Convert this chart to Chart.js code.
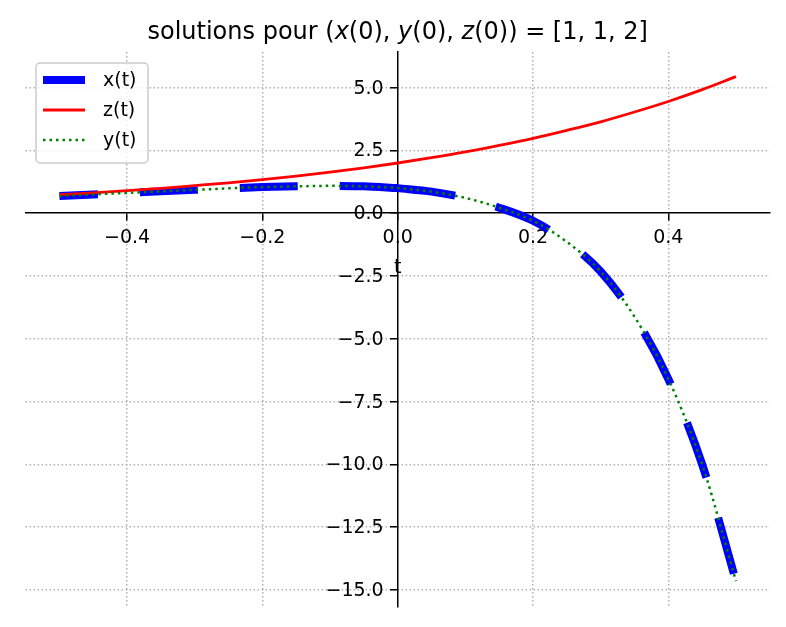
<!DOCTYPE html>
<html>
<head>
<meta charset="utf-8">
<script src="https://cdn.jsdelivr.net/npm/chart.js@4.4.0/dist/chart.umd.min.js"></script>
<style>
  html, body { margin: 0; padding: 0; background: #fff; }
  #wrap { position: relative; width: 786px; height: 627px; }
</style>
</head>
<body>
<div id="wrap"><canvas id="chart" width="786" height="627"></canvas></div>
<script>
// values
const tValues = [-0.5, -0.45, -0.4, -0.35, -0.3, -0.25, -0.2, -0.15, -0.1, -0.05, 0,
  0.05, 0.1, 0.15, 0.2, 0.25, 0.3, 0.35, 0.4, 0.45, 0.5];
const xValues = [0.69, 0.75, 0.81, 0.87, 0.93, 0.99, 1.04, 1.07, 1.09, 1.07, 1.0,
  0.86, 0.61, 0.22, -0.30, -1.14, -2.32, -4.12, -6.6, -10.0, -14.65];
const yValues = [0.69, 0.75, 0.81, 0.87, 0.93, 0.99, 1.04, 1.07, 1.09, 1.07, 1.0,
  0.86, 0.61, 0.22, -0.30, -1.14, -2.32, -4.12, -6.6, -10.0, -14.65];
const zValues = [0.74, 0.81, 0.90, 0.99, 1.10, 1.21, 1.34, 1.48, 1.64, 1.81, 2.0,
  2.21, 2.44, 2.70, 2.98, 3.30, 3.64, 4.03, 4.45, 4.92, 5.44];

const xTicks = [-0.4, -0.2, 0.0, 0.2, 0.4];
const yTicks = [-15, -12.5, -10, -7.5, -5, -2.5, 0, 2.5, 5];
const legendLabels = ["x(t)", "z(t)", "y(t)"];
const axisLabel = "t";
// [text, italic]
const titleParts = [
  ["solutions pour (", false], ["x", true], ["(0), ", false], ["y", true],
  ["(0), ", false], ["z", true], ["(0)) = [1, 1, 2]", false]
];

const FONT = "'DejaVu Sans', sans-serif";
const i0 = tValues.indexOf(0);
const pts = (vals, idx) => idx.map((i) => ({ x: tValues[i], y: vals[i] }));
const rightIdx = tValues.map((_, i) => i).slice(i0);
const leftIdx = tValues.map((_, i) => i).slice(0, i0 + 1).reverse();
const allIdx = tValues.map((_, i) => i);

const fmt = (v) => v.toFixed(1).replace("-", "\u2212");

const extras = {
  id: "extras",
  afterDraw(chart) {
    const ctx = chart.ctx;
    const sx = chart.scales.x, sy = chart.scales.y;
    ctx.save();

    // title
    ctx.fillStyle = "#000";
    ctx.textBaseline = "alphabetic";
    let total = 0;
    const size = 24;
    titleParts.forEach(([txt, it]) => {
      ctx.font = (it ? "italic " : "") + size + "px " + FONT;
      total += ctx.measureText(txt).width;
    });
    let x = 397.7 - total / 2;
    titleParts.forEach(([txt, it]) => {
      ctx.font = (it ? "italic " : "") + size + "px " + FONT;
      ctx.textAlign = "left";
      ctx.fillText(txt, x, 39);
      x += ctx.measureText(txt).width;
    });

    // y tick labels, left of the centred axis
    ctx.font = "19px " + FONT;
    ctx.textAlign = "right";
    ctx.textBaseline = "middle";
    const x0 = sx.getPixelForValue(0);
    yTicks.forEach((v) => {
      ctx.fillText(fmt(v), x0 - 14, sy.getPixelForValue(v) + 1);
    });

    // axis label
    ctx.textAlign = "center";
    ctx.textBaseline = "alphabetic";
    ctx.fillText(axisLabel, x0, 273);

    // legend box
    ctx.beginPath();
    ctx.roundRect(36, 63, 112, 100, 4);
    ctx.fillStyle = "rgba(255,255,255,0.8)";
    ctx.fill();
    ctx.strokeStyle = "#cccccc";
    ctx.lineWidth = 1.5;
    ctx.stroke();

    const styles = [
      { color: "#0000ff", width: 8, dash: [] },
      { color: "#ff0000", width: 2.8, dash: [] },
      { color: "#008000", width: 2.5, dash: [2.5, 4] }
    ];
    legendLabels.forEach((lab, k) => {
      const y = 80 + k * 30;
      const s = styles[k];
      ctx.beginPath();
      ctx.setLineDash(s.dash);
      ctx.lineCap = "butt";
      ctx.strokeStyle = s.color;
      ctx.lineWidth = s.width;
      ctx.moveTo(43, y);
      ctx.lineTo(85, y);
      ctx.stroke();
      ctx.setLineDash([]);
      ctx.fillStyle = "#000";
      ctx.font = "19px " + FONT;
      ctx.textAlign = "left";
      ctx.textBaseline = "middle";
      ctx.fillText(lab, 103, y + 1);
    });
    ctx.restore();
  }
};

const gridColor = (c) => (c.tick && c.tick.value === 0 ? "rgba(0,0,0,0)" : "#b0b0b0");

new Chart(document.getElementById("chart"), {
  type: "line",
  data: {
    datasets: [
      {
        label: "x(t)",
        data: pts(xValues, rightIdx),
        borderColor: "#0000ff",
        borderWidth: 8,
        borderDash: [58, 42],
        borderCapStyle: "butt",
        order: 3
      },
      {
        label: "x(t) left",
        data: pts(xValues, leftIdx),
        borderColor: "#0000ff",
        borderWidth: 8,
        borderDash: [58, 42],
        borderCapStyle: "butt",
        order: 3
      },
      {
        label: "z(t)",
        data: pts(zValues, allIdx),
        borderColor: "#ff0000",
        borderWidth: 2.8,
        order: 2
      },
      {
        label: "y(t)",
        data: pts(yValues, allIdx),
        borderColor: "#008000",
        borderWidth: 2.5,
        borderDash: [2.5, 4],
        borderCapStyle: "butt",
        order: 1
      }
    ]
  },
  options: {
    responsive: false,
    animation: false,
    elements: {
      point: { radius: 0 },
      line: { cubicInterpolationMode: "monotone", fill: false }
    },
    layout: { padding: { left: 25.6, right: 16.2, top: 52, bottom: 20 } },
    plugins: {
      legend: { display: false },
      title: { display: false },
      tooltip: { enabled: false }
    },
    scales: {
      x: {
        type: "linear",
        min: -0.55,
        max: 0.55,
        position: { y: 0 },
        afterBuildTicks: (s) => { s.ticks = xTicks.map((v) => ({ value: v })); },
        afterFit: (s) => { s.height = 0; },
        grid: { color: gridColor, lineWidth: 1.5, tickLength: 7, tickColor: "#000", tickWidth: 1.5 },
        border: { color: "#000", width: 1.5, dash: [1.5, 2.5] },
        ticks: {
          font: { family: FONT, size: 19 },
          color: "#000",
          padding: 6,
          maxRotation: 0,
          autoSkip: false,
          callback: (v) => fmt(v)
        }
      },
      y: {
        type: "linear",
        min: -15.68,
        max: 6.42,
        position: { x: 0 },
        afterBuildTicks: (s) => { s.ticks = yTicks.map((v) => ({ value: v })); },
        afterFit: (s) => { s.width = 0; },
        grid: { color: gridColor, lineWidth: 1.5, tickLength: 7, tickColor: "#000", tickWidth: 1.5 },
        border: { color: "#000", width: 1.5, dash: [1.5, 2.5] },
        ticks: { display: false }
      }
    }
  },
  plugins: [extras]
});
</script>
</body>
</html>
